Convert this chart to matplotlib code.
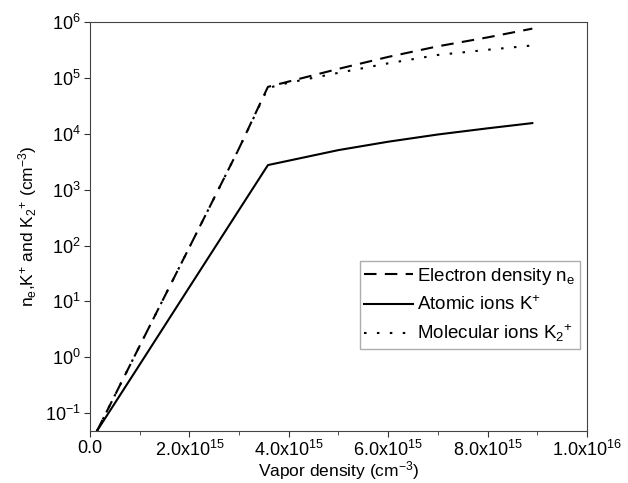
import matplotlib
matplotlib.use('Agg')
import matplotlib.pyplot as plt
from matplotlib.ticker import FuncFormatter, MultipleLocator, LogFormatterSciNotation

plt.rcParams['font.family'] = ['Liberation Sans', 'DejaVu Sans']
plt.rcParams['mathtext.default'] = 'regular'
plt.rcParams['axes.unicode_minus'] = False

# vapor density (cm^-3)
vapor = [1.4e14, 1.0e15, 2.0e15, 3.0e15, 3.58e15, 4.0e15, 5.0e15, 6.0e15, 7.0e15, 8.0e15, 8.9e15]
electron = [0.048, 1.6, 93, 5.5e3, 6.9e4, 8.6e4, 1.45e5, 2.37e5, 3.67e5, 5.3e5, 7.6e5]
atomic = [0.048, 0.74, 18, 435, 2.75e3, 3.3e3, 5.1e3, 7.2e3, 9.7e3, 1.25e4, 1.55e4]
molecular = [0.048, 1.6, 93, 5.5e3, 6.6e4, 8.2e4, 1.23e5, 1.82e5, 2.57e5, 3.18e5, 3.8e5]
yticks = [1e-1, 1e0, 1e1, 1e2, 1e3, 1e4, 1e5, 1e6]

fig = plt.figure(figsize=(6.28, 4.83), dpi=100)
ax = fig.add_axes([0.1433, 0.1077, 0.7914, 0.8468])

ax.plot(vapor, electron, color='black', lw=1.5, dashes=(6, 4), label=r'Electron density n$_e$')
ax.plot(vapor, atomic, color='black', lw=1.5, label=r'Atomic ions K$^{+}$')
ax.plot(vapor, molecular, color='black', lw=1.5, dashes=(1.2, 5), label=r'Molecular ions K$_2$$^{+}$')

ax.set_yscale('log')
ax.set_xlim(0, 1e16)
ax.set_ylim(0.048, 1e6)
ax.set_yticks(yticks)
ax.yaxis.set_major_formatter(LogFormatterSciNotation())
ax.yaxis.set_minor_locator(plt.NullLocator())
ax.xaxis.set_major_locator(MultipleLocator(2e15))
ax.xaxis.set_minor_locator(MultipleLocator(1e15))


def xfmt(v, pos):
    if v == 0:
        return '0.0'
    exp = 0
    m = v
    while m >= 10:
        m /= 10
        exp += 1
    return '%.1fx10$^{%d}$' % (m, exp)


ax.xaxis.set_major_formatter(FuncFormatter(xfmt))
ax.tick_params(which='major', direction='out', length=4, labelsize=13, color='#333333', pad=2.5)
ax.tick_params(which='minor', direction='out', length=3, color='#333333')
for s in ax.spines.values():
    s.set_color('#444444')

ax.set_xlabel('Vapor density (cm$^{-3}$)', fontsize=12.5)
ax.xaxis.set_label_coords(0.5, -0.068)
ax.set_ylabel(r'n$_e$,K$^{+}$ and K$_2$$^{+}$ (cm$^{-3}$)', fontsize=12.5, labelpad=4)

leg = ax.legend(loc='upper right', bbox_to_anchor=(0.985, 0.415), fontsize=13.5,
                fancybox=False, handlelength=2.6, handletextpad=0.2,
                borderpad=0.25, labelspacing=0.45, borderaxespad=0)
leg.get_frame().set_edgecolor('#999999')
leg.get_frame().set_linewidth(1.0)

fig.savefig('out.png', dpi=100)
